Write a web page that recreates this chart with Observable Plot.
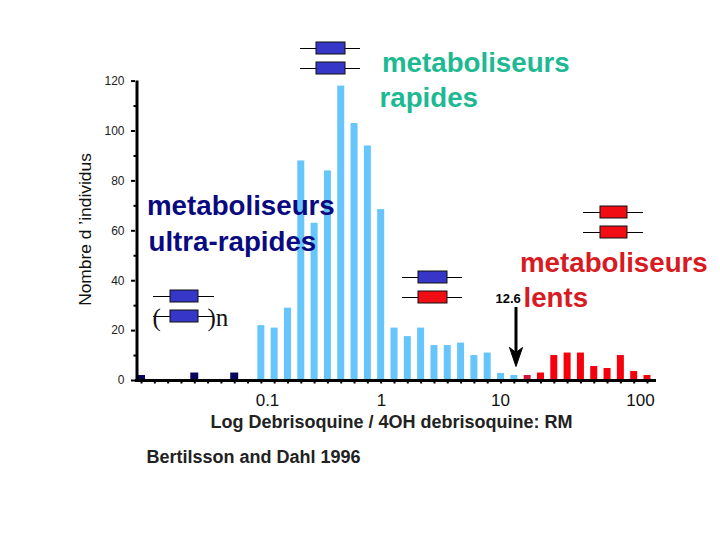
<!DOCTYPE html>
<html><head><meta charset="utf-8">
<style>html,body{margin:0;padding:0;background:#fff}svg{display:block}</style>
<script src="https://cdn.jsdelivr.net/npm/d3@7"></script>
<script src="https://cdn.jsdelivr.net/npm/@observablehq/plot@0.6"></script>
</head><body><div id="c"></div>
<script>
const darkBins=[0,4,7];
const darkCounts=[2,3,3];
const lightBins=[9,10,11,12,13,14,15,16,17,18,19,20,21,22,23,24,25,26,27,28];
const lightCounts=[22,21,29,88,63,84,118,103,94,68.5,21,17.6,21,14,14,15,10,11,2.8,2];
const darkRedBins=[29];
const darkRedCounts=[2];
const redBins=[30,31,32,33,34,35,36,37,38];
const redCounts=[3,10,11,11,5.6,4.8,10,3.6,2];
const yTicks=[0,20,40,60,80,100,120];
const yMinor=[10,30,50,70,90,110];
const xTickLabels=["0.1","1","10","100"];

const table=(b,c)=>b.map((bin,i)=>({bin,count:c[i]}));
// annotation placement helpers: reference pixels to scale units
const ux=p=>(p-141)/13.316, uy=p=>(380-p)/2.495;
const bars=(b,c,fill,w=7)=>Plot.rect(table(b,c),{
  x1:d=>d.bin-w/2/13.316,x2:d=>d.bin+w/2/13.316,y1:0,y2:"count",fill});
const gene=(x0,x1,l0,l1,cy,fill)=>[
  Plot.ruleY([uy(cy)],{x1:ux(l0),x2:ux(l1),stroke:"#000",strokeWidth:1}),
  Plot.rect([0],{x1:ux(x0),x2:ux(x1),y1:uy(cy-6),y2:uy(cy+6),fill,stroke:"#111",strokeWidth:1})
];
const sans="Liberation Sans, Arial, sans-serif";
const label=(t,x,y,o)=>Plot.text([t],{x:ux(x),y:uy(y),text:d=>d,textAnchor:"start",lineAnchor:"middle",
  fontFamily:sans,...o});
const big=(t,x,y,fill)=>label(t,x,y,{fontSize:27.7,fontWeight:700,fill});
const arrowHead=[[509,347],[515.5,366],[522,347],[515.5,352],[509,347]];
const blue="#3636c8",red="#f00d14",teal="#1db992",navy="#0a0a80",crimson="#d81a22";

const chart=Plot.plot({
  width:720,height:540,margin:0,
  x:{type:"linear",domain:[0,38],range:[141,647],axis:null},
  y:{type:"linear",domain:[0,120],range:[380,80.6],axis:null},
  marks:[
    bars(lightBins,lightCounts,"#66c6fb"),
    bars(darkBins,darkCounts,"#06065e",8),
    bars(darkRedBins,darkRedCounts,"#d4143c"),
    bars(redBins,redCounts,"#f5000c"),
    Plot.ruleY([0],{x1:ux(135),x2:ux(656),stroke:"#000",strokeWidth:3}),
    Plot.ruleX([ux(136.5)],{y1:uy(381),y2:yTicks[6],stroke:"#000",strokeWidth:3}),
    Plot.ruleX(d3.range(0,39),{y1:0,y2:uy(383.5),stroke:"#000",strokeWidth:2}),
    Plot.axisY({ticks:yTicks,tickSize:4,tickPadding:7,strokeWidth:2,stroke:"#000",anchor:"left",
      x:ux(135),label:null,fontSize:12,fontFamily:sans,color:"#222"}),
    Plot.ruleY(yMinor,{x1:ux(133.5),x2:ux(136),stroke:"#000",strokeWidth:2}),
    Plot.text(xTickLabels,{x:[ux(267),ux(381),ux(500),ux(640)],y:uy(400),text:d=>d,fontSize:17,
      fontFamily:sans,fill:"#111"}),
    label("Log Debrisoquine / 4OH debrisoquine: RM",210,422,{fontSize:18,fontWeight:700,fill:"#222"}),
    label("Bertilsson and Dahl 1996",146,457,{fontSize:18,fontWeight:700,fill:"#222"}),
    Plot.text(["Nombre d ’individus"],{x:ux(85),y:uy(229),rotate:-90,text:d=>d,fontSize:17.4,fontFamily:sans,fill:"#111"}),
    ...gene(316,345,300,360,48,blue),
    ...gene(316,345,300,360,68,blue),
    ...gene(170,198,153,214,296,blue),
    ...gene(170,198,153,213,316,blue),
    ...gene(418,447,402,462,277,blue),
    ...gene(418,447,402,462,297,red),
    ...gene(600,627,583,643,212,red),
    ...gene(600,627,583,643,232,red),
    label("(",152,317,{fontSize:25,fontFamily:"Liberation Serif, serif",fill:"#111"}),
    label(")n",207,317,{fontSize:25,fontFamily:"Liberation Serif, serif",fill:"#111"}),
    big("metaboliseurs",381.5,63,teal),
    big("rapides",379,98,teal),
    big("metaboliseurs",146.5,206,navy),
    big("ultra-rapides",148,242,navy),
    big("metaboliseurs",519.5,263,crimson),
    big("lents",523,298,crimson),
    label("12.6",495,298,{fontSize:13,fontWeight:700,fill:"#000"}),
    Plot.ruleX([ux(515.5)],{y1:uy(307),y2:uy(352),stroke:"#000",strokeWidth:3}),
    Plot.line(arrowHead,{x:d=>ux(d[0]),y:d=>uy(d[1]),fill:"#000",stroke:"#000",strokeWidth:1})
  ]
});
document.getElementById("c").append(chart);
</script></body></html>
